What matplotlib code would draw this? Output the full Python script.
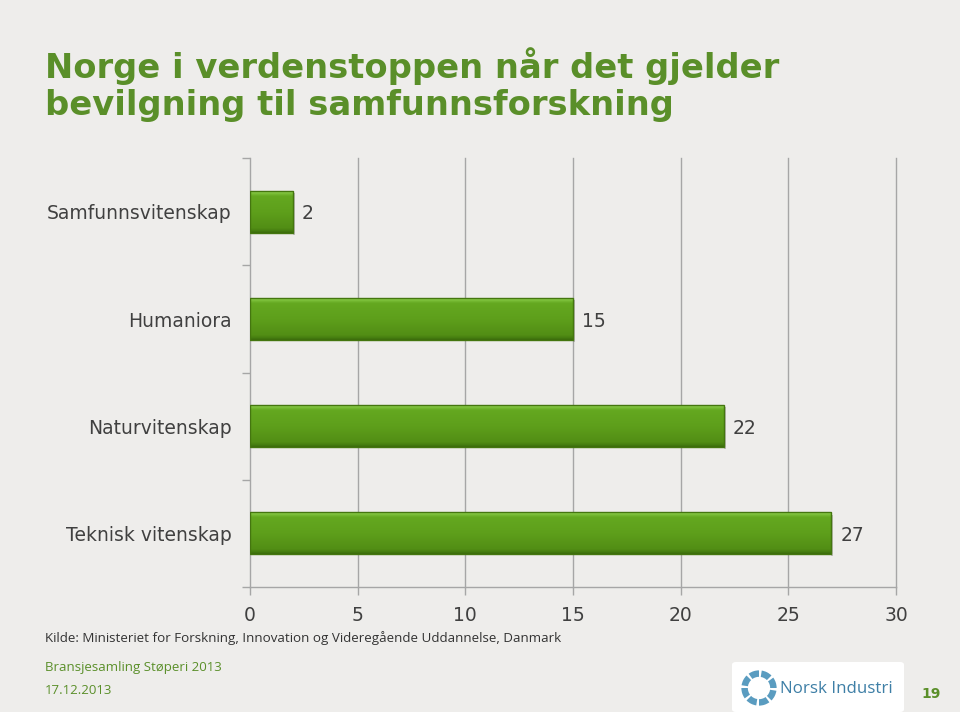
import matplotlib
matplotlib.use("Agg")
import matplotlib.pyplot as plt
import numpy as np
from matplotlib.patches import FancyBboxPatch, Rectangle, Wedge
from matplotlib.colors import LinearSegmentedColormap

plt.rcParams['font.family'] = ['DejaVu Sans']

categories = ["Samfunnsvitenskap", "Humaniora", "Naturvitenskap", "Teknisk vitenskap"]
values = [2, 15, 22, 27]
xticks = [0, 5, 10, 15, 20, 25, 30]

BG = "#EEEDEB"
GREEN_T = "#5A8F29"
TXT = "#404040"
GRID = "#A6A6A6"
W, H = 960, 712

fig = plt.figure(figsize=(W / 100, H / 100), dpi=100, facecolor=BG)

def fx(px):
    return px / W

def fy(py):
    return 1 - py / H

# axes area: x 250..896, y 158..587
ax = fig.add_axes([fx(250), fy(587), fx(896) - fx(250), (587 - 158) / H])
ax.set_facecolor(BG)
ax.patch.set_alpha(0)
ax.set_xlim(0, 30)
n = len(categories)
ax.set_ylim(n - 0.5, -0.5)

ypos = np.arange(n)
bh = 0.39
bars = ax.barh(ypos, values, height=bh, color="#5C9E1C", edgecolor="none", linewidth=0, zorder=3)

grad = np.linspace(0, 1, 128).reshape(-1, 1)
cmap = LinearSegmentedColormap.from_list(
    "g", [(0.0, "#9AD85A"), (0.05, "#7CC03A"), (0.12, "#64A820"), (0.5, "#5E9F1B"),
          (0.88, "#528E15"), (0.95, "#467E10"), (1.0, "#3A6A0C")])
for b in bars:
    x0, y0 = b.get_x(), b.get_y()
    w, h = b.get_width(), b.get_height()
    im = ax.imshow(grad, cmap=cmap, aspect="auto", extent=[x0, x0 + w, y0 + h, y0], zorder=3.5,
                   interpolation="bilinear")
    im.set_clip_path(b)
    ax.add_patch(Rectangle((x0, y0), w, h, fill=False, edgecolor="#44760F", linewidth=1.0, zorder=4))
    ax.plot([x0 + w + 0.04, x0 + w + 0.04], [y0 + 0.02, y0 + h + 0.02], color="#8A8A80", lw=1.2,
            alpha=0.6, zorder=2.9, solid_capstyle="butt")

for y, v in zip(ypos, values):
    ax.text(v + 0.42, y + 0.02, str(v), va="center", ha="left", fontsize=13.5, color=TXT, zorder=5)

ax.set_xticks(xticks)
ax.set_xticklabels([str(t) for t in xticks], fontsize=13.5, color=TXT)
for t in xticks[1:]:
    ax.axvline(t, color=GRID, linewidth=1.0, zorder=0, clip_on=False)
ax.tick_params(axis="x", length=6, width=1, color=GRID, pad=8)

ax.set_yticks(np.arange(-0.5, n, 1.0))
ax.set_yticklabels([])
ax.tick_params(axis="y", length=6, width=1, color=GRID)
for y, c in zip(ypos, categories):
    ax.text(-0.85, y + 0.02, c, ha="right", va="center", fontsize=13.5, color=TXT)

for s in ["top", "right"]:
    ax.spines[s].set_visible(False)
for s in ["left", "bottom"]:
    ax.spines[s].set_color(GRID)
    ax.spines[s].set_linewidth(1.0)

# Title
fig.text(fx(45), fy(66), "Norge i verdenstoppen når det gjelder", fontsize=24.3, fontweight="bold",
         color=GREEN_T, ha="left", va="center")
fig.text(fx(45), fy(106), "bevilgning til samfunnsforskning", fontsize=24.3, fontweight="bold",
         color=GREEN_T, ha="left", va="center")

# Footer
fig.text(fx(45), fy(638), "Kilde: Ministeriet for Forskning, Innovation og Videregående Uddannelse, Danmark",
         fontsize=9.6, color="#333333", ha="left", va="center", fontfamily="Open Sans")
fig.text(fx(45), fy(667), "Bransjesamling Støperi 2013", fontsize=9.5, color=GREEN_T, ha="left", va="center",
         fontfamily="Open Sans")
fig.text(fx(45), fy(690), "17.12.2013", fontsize=9.5, color=GREEN_T, ha="left", va="center",
         fontfamily="Open Sans")

# logo box
fig.patches.append(FancyBboxPatch((fx(732), fy(712)), fx(904) - fx(732), (712 - 662) / H,
                                  boxstyle="round,pad=0,rounding_size=0.004", transform=fig.transFigure,
                                  facecolor="white", edgecolor="none", zorder=1))
lax = fig.add_axes([fx(741), fy(706), fx(36), 36 / H], zorder=5)
lax.set_xlim(-1, 1); lax.set_ylim(-1, 1); lax.axis("off"); lax.set_aspect("equal")
for a0 in range(0, 360, 45):
    lax.add_patch(Wedge((0, 0), 0.98, a0, a0 + 36, width=0.36, facecolor="#5A9CC0", edgecolor="none"))
fig.text(fx(780), fy(689), "Norsk Industri", fontsize=12.2, color="#3E7FA6", ha="left", va="center",
         fontfamily="Open Sans", zorder=3)
fig.text(fx(931), fy(694), "19", fontsize=10, fontweight="bold", color=GREEN_T, ha="center", va="center")

fig.savefig("out.png", dpi=100, facecolor=BG)
